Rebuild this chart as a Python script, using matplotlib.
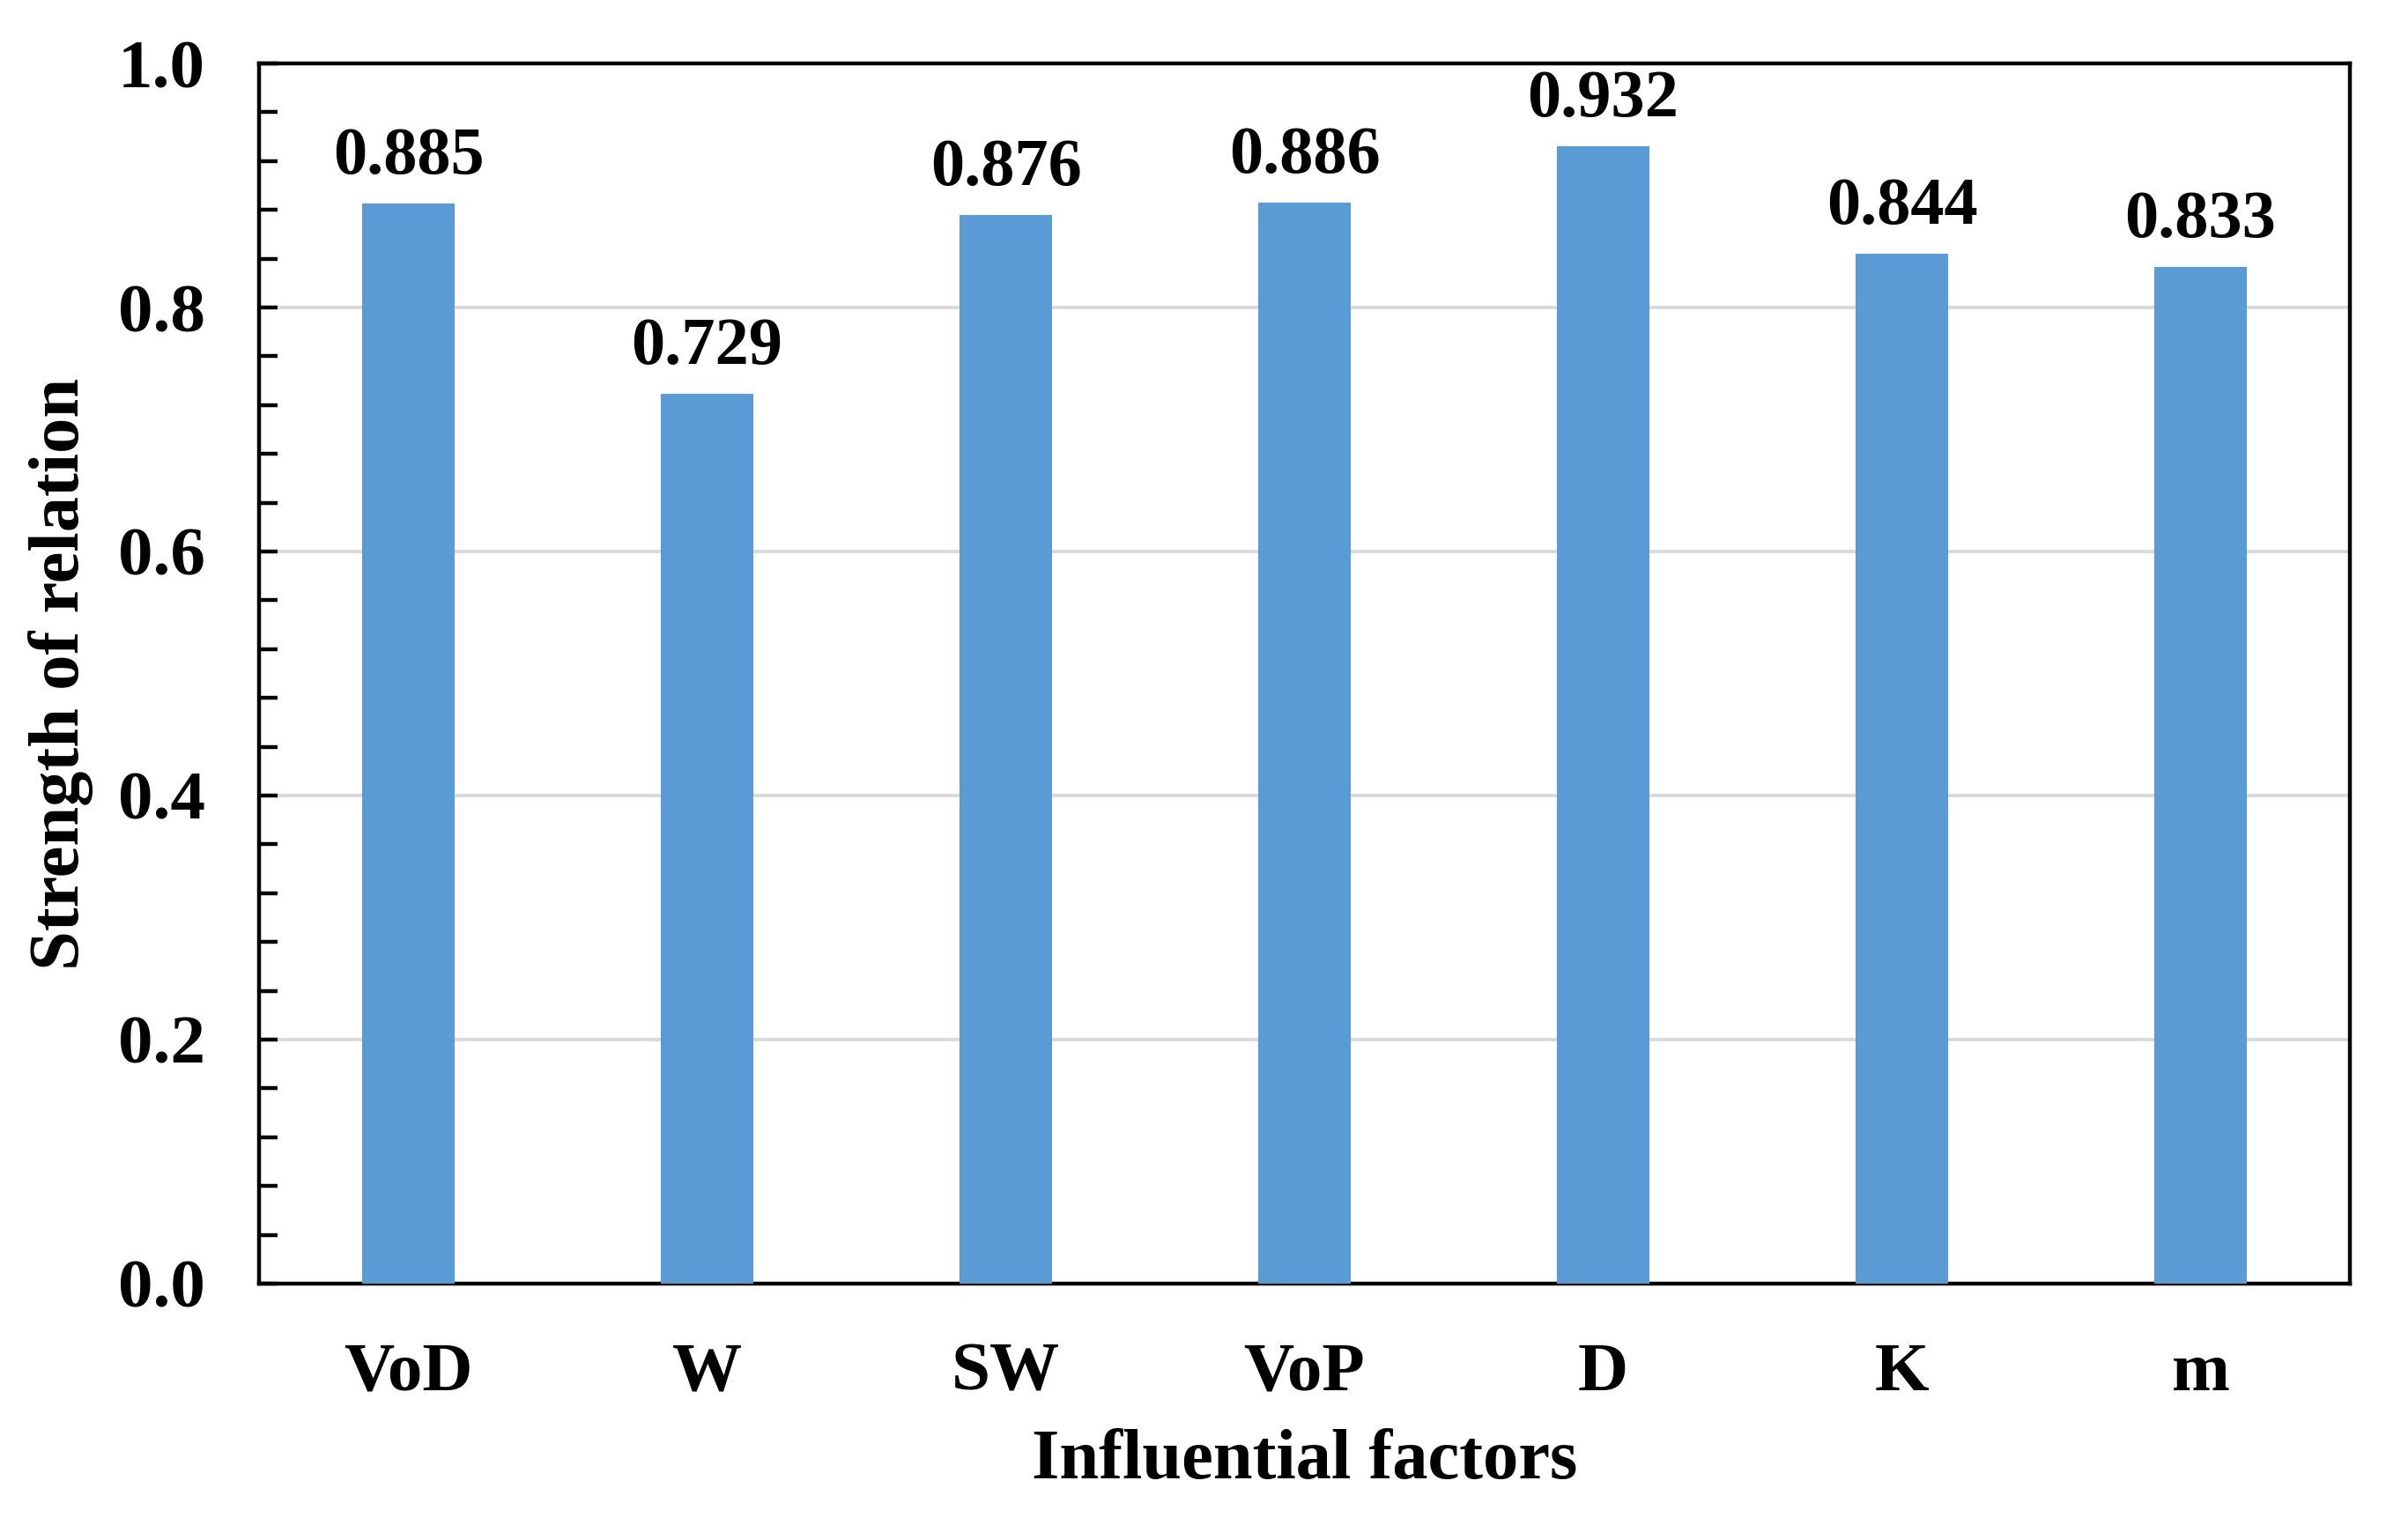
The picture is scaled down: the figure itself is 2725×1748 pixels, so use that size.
import matplotlib
matplotlib.use("Agg")
import matplotlib.pyplot as plt
from matplotlib.ticker import MultipleLocator

categories = ["VoD", "W", "SW", "VoP", "D", "K", "m"]
values = [0.885, 0.729, 0.876, 0.886, 0.932, 0.844, 0.833]
yticks = [0.0, 0.2, 0.4, 0.6, 0.8, 1.0]

plt.rcParams['font.family'] = ['Liberation Serif', 'DejaVu Serif']
plt.rcParams['font.weight'] = 'bold'

fig = plt.figure(figsize=(13.625, 8.74), dpi=200)
ax = fig.add_axes([0.1079, 0.1665, 0.8708, 0.7923])

x = list(range(len(categories)))
bars = ax.bar(x, values, width=0.31, color="#5B9BD5", zorder=3)

for xi, v in zip(x, values):
    ax.annotate(f"{v:.3f}", (xi, v), xytext=(0, 6.5), textcoords="offset points",
                ha="center", va="bottom", fontsize=27.5, fontweight="bold")

ax.set_xlim(-0.5, len(categories) - 0.5)
ax.set_ylim(0, 1.0)
ax.set_yticks(yticks)
ax.set_yticklabels([f"{t:.1f}" for t in yticks])
ax.yaxis.set_minor_locator(MultipleLocator(0.04))
ax.set_xticks(x)
ax.set_xticklabels(categories)

ax.grid(axis="y", color="#d9d9d9", linewidth=1.4, zorder=0)
ax.set_axisbelow(True)

for s in ax.spines.values():
    s.set_linewidth(1.6)
    s.set_color("black")

ax.tick_params(axis="y", which="both", direction="in", length=7.5, width=1.6,
               labelsize=28.5, pad=22)
ax.tick_params(axis="x", which="both", length=0, labelsize=28.5, pad=24)
for lab in ax.get_xticklabels() + ax.get_yticklabels():
    lab.set_fontweight("bold")

ax.set_xlabel("Influential factors", fontsize=29, fontweight="bold", labelpad=10)
ax.set_ylabel("Strength of relation", fontsize=29, fontweight="bold", labelpad=10)

fig.savefig("out.png", dpi=200)
